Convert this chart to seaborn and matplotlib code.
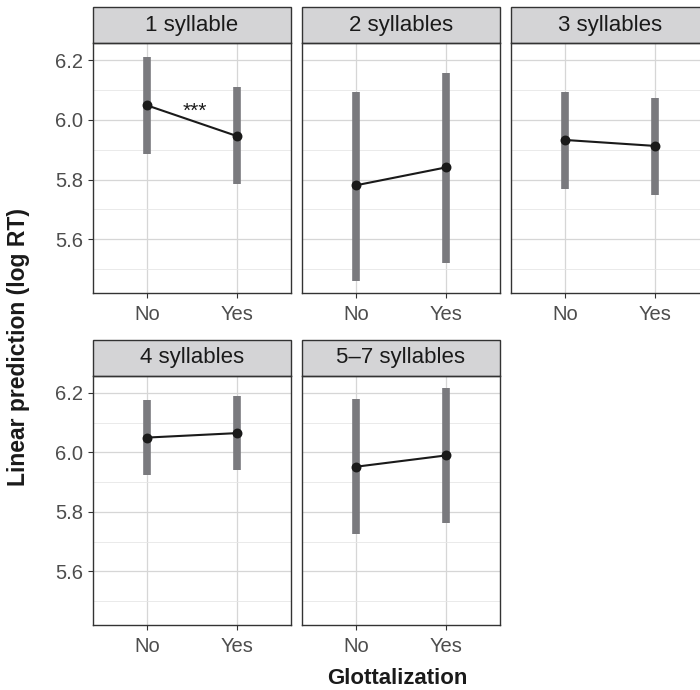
import numpy as np
import pandas as pd
import matplotlib.pyplot as plt
import seaborn as sns
from matplotlib.patches import Rectangle
from matplotlib.ticker import MultipleLocator

panels = ['1 syllable', '2 syllables', '3 syllables', '4 syllables', '5–7 syllables']
glott = ['No', 'Yes']
est_no = [6.049, 5.781, 5.933, 6.050, 5.952]
est_yes = [5.946, 5.841, 5.913, 6.065, 5.990]
lo_no = [5.886, 5.460, 5.770, 5.925, 5.726]
hi_no = [6.212, 6.094, 6.095, 6.175, 6.179]
lo_yes = [5.784, 5.520, 5.748, 5.941, 5.764]
hi_yes = [6.110, 6.157, 6.075, 6.190, 6.217]
signif = ['***', '', '', '', '']

# long table: lower bound, estimate, upper bound per cell -> median = estimate, min/max = CI
rows = []
for i, p in enumerate(panels):
    for g, lo, est, hi in [('No', lo_no[i], est_no[i], hi_no[i]),
                           ('Yes', lo_yes[i], est_yes[i], hi_yes[i])]:
        for v in (lo, est, hi):
            rows.append({'panel': p, 'glott': g, 'value': v})
df = pd.DataFrame(rows)

sns.set_theme(style='white')
plt.rcParams['font.family'] = ['Liberation Sans', 'DejaVu Sans']

W, H = 700, 690
fig = plt.figure(figsize=(7, 6.9), dpi=100)

pw = 198
lefts = [93, 302, 511]
rows_px = [(43, 292.7), (375.7, 624.7)]
strip_px = 36

axes = []
for i, p in enumerate(panels):
    r, c = divmod(i, 3)
    top, bot = rows_px[r]
    ax = fig.add_axes([lefts[c] / W, 1 - bot / H, pw / W, (bot - top) / H])
    axes.append(ax)
    sub = df[df['panel'] == p]
    sns.pointplot(data=sub, x='glott', y='value', order=glott, estimator='median',
                  errorbar=('pi', 100), color='#1a1a1a', markersize=6, linewidth=1.5,
                  err_kws={'color': '#7a7a7e', 'linewidth': 5.5, 'zorder': 1,
                           'solid_capstyle': 'butt'},
                  ax=ax)
    ax.set_xlim(-0.6, 1.6)
    ax.set_ylim(5.421, 6.258)
    ax.yaxis.set_major_locator(MultipleLocator(0.2))
    ax.yaxis.set_minor_locator(MultipleLocator(0.1))
    ax.set_axisbelow(True)
    ax.grid(which='major', color='#d6d6d6', linewidth=0.9)
    ax.grid(which='minor', axis='y', color='#e6e6e6', linewidth=0.6)
    ax.set_xlabel('')
    ax.set_ylabel('')
    for s in ax.spines.values():
        s.set_color('#333333')
        s.set_linewidth(1.0)
    ax.tick_params(axis='both', which='major', labelsize=14.5, labelcolor='#4d4d4d',
                   color='#333333', length=3.5, width=0.8, bottom=True, left=(c == 0))
    ax.tick_params(axis='x', which='major', pad=5)
    ax.tick_params(axis='y', which='minor', left=False)
    if c != 0:
        ax.set_yticklabels([])
    sh = strip_px / (bot - top)
    ax.add_patch(Rectangle((0, 1), 1, sh, transform=ax.transAxes, facecolor='#d4d4d6',
                           edgecolor='#333333', linewidth=1.0, clip_on=False))
    ax.text(0.5, 1 + sh / 2, p, transform=ax.transAxes, ha='center', va='center',
            fontsize=16, color='#1a1a1a')
    if signif[i]:
        ax.text(0.53, 6.03, signif[i], ha='center', va='center', fontsize=15, color='#1a1a1a')

fig.text(18.5 / W, 1 - 347 / H, 'Linear prediction (log RT)', rotation=90, ha='center',
         va='center', fontsize=16.5, fontweight='bold', color='#1a1a1a')
fig.text(397 / W, 1 - 679 / H, 'Glottalization', ha='center', va='center',
         fontsize=16, fontweight='bold', color='#1a1a1a')

fig.savefig('out.png', dpi=100)
